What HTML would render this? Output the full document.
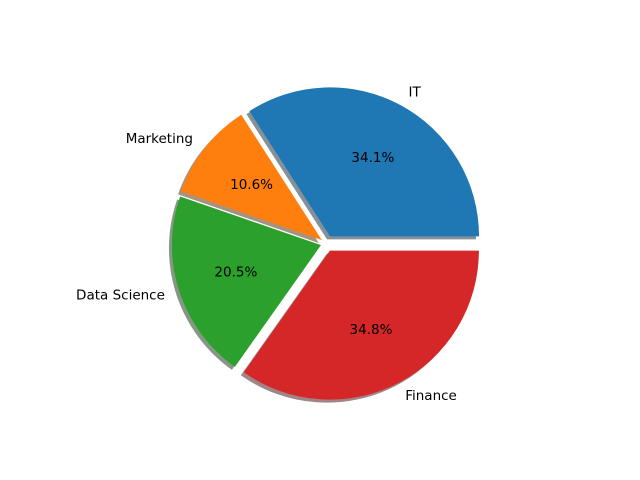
<!DOCTYPE html>
<html><head><meta charset="utf-8"><style>
html,body{margin:0;padding:0;background:#fff;}
svg{display:block;font-family:"DejaVu Sans","Liberation Sans",sans-serif;}
</style></head><body>
<svg id="chart" width="640" height="480" viewBox="0 0 640 480">
<rect width="640" height="480" fill="#fff"/>
<g id="shadows"></g>
<g id="wedges"></g>
<g id="labels"></g>
</svg>
<script>
const categories = ["IT", "Marketing", "Data Science", "Finance"];
const values = [34.1, 10.6, 20.5, 34.8];
const explodeAmounts = [0.054, 0.037, 0.037, 0.054];
const colors = ["#1f77b4", "#ff7f0e", "#2ca02c", "#d62728"];

const cx = 326.2, cy = 243.5, R = 149;
const NS = "http://www.w3.org/2000/svg";
const total = values.reduce((a,b)=>a+b,0);
function pt(x,y,deg,r){const a=deg*Math.PI/180;return [x+r*Math.cos(a), y-r*Math.sin(a)];}
function shade(hex,f){const n=parseInt(hex.slice(1),16);return `rgb(${Math.round((n>>16&255)*f)},${Math.round((n>>8&255)*f)},${Math.round((n&255)*f)})`;}
function wedgePath(x,y,a0,a1){
  const p0=pt(x,y,a0,R), p1=pt(x,y,a1,R);
  const large=(a1-a0)>180?1:0;
  return `M${x},${y} L${p0[0]},${p0[1]} A${R},${R} 0 ${large} 0 ${p1[0]},${p1[1]} Z`;
}
const sh=document.getElementById('shadows'), wg=document.getElementById('wedges'), lb=document.getElementById('labels');
let start=0;
values.forEach((v,i)=>{
  const span=v/total*360, end=start+span, mid=(start+end)/2;
  const [wx,wy]=pt(cx,cy,mid,explodeAmounts[i]*R);
  const s=document.createElementNS(NS,'path');
  s.setAttribute('d',wedgePath(wx-3,wy+3,start,end));
  s.setAttribute('fill',shade(colors[i],0.3));
  s.setAttribute('fill-opacity','0.5');
  
  
  sh.appendChild(s);
  const p=document.createElementNS(NS,'path');
  p.setAttribute('d',wedgePath(wx,wy,start,end));
  p.setAttribute('fill',colors[i]);
  
  
  wg.appendChild(p);
  const [lx,ly]=pt(wx,wy,mid,1.1*R);
  const t=document.createElementNS(NS,'text');
  t.setAttribute('x',lx);t.setAttribute('y',ly);
  t.setAttribute('font-size','13.5');
  t.setAttribute('dominant-baseline','central');
  t.setAttribute('text-anchor',Math.cos(mid*Math.PI/180)>=0?'start':'end');
  t.textContent=categories[i];
  
  
  lb.appendChild(t);
  const [px,py]=pt(wx,wy,mid,0.6*R);
  const q=document.createElementNS(NS,'text');
  q.setAttribute('x',px);q.setAttribute('y',py);
  q.setAttribute('font-size','13.5');
  q.setAttribute('text-anchor','middle');
  q.setAttribute('dominant-baseline','central');
  q.textContent=v.toFixed(1)+'%';
  
  
  lb.appendChild(q);
  start=end;
});
</script>
</body></html>
